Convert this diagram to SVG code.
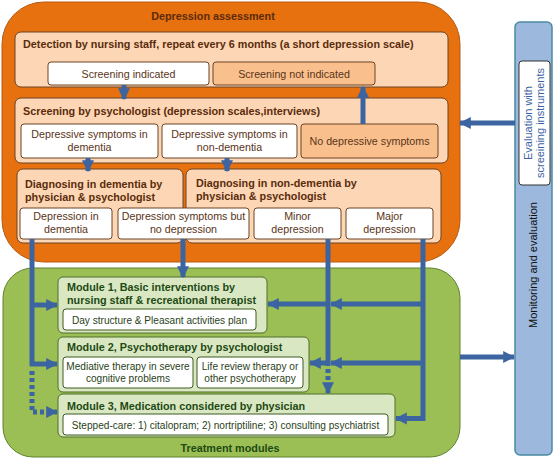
<svg xmlns="http://www.w3.org/2000/svg" width="555" height="460" viewBox="0 0 555 460">
<defs>
<style>
text{font-family:"Liberation Sans",Arial,sans-serif}
.ob{fill:#fcd6b5;stroke:#6b4426;stroke-width:1}
.wb{fill:#ffffff;stroke:#6b4426;stroke-width:1}
.db{fill:#f9c08e;stroke:#6b4426;stroke-width:1}
.gb{fill:#d9e8c3;stroke:#4f6e2a;stroke-width:1}
.gw{fill:#ffffff;stroke:#3e5a22;stroke-width:1}
.ot{font-size:10.8px;font-weight:bold;fill:#5a2c0c}
.st{font-size:10.7px;fill:#5a3418;text-anchor:middle}
.gt{font-size:10.8px;font-weight:bold;fill:#1f4a14}
.gs{font-size:10.1px;fill:#2a3f20;text-anchor:middle}
.c{fill:none;stroke:#3c64a0;stroke-width:5}
.cd{fill:none;stroke:#3c64a0;stroke-width:5;stroke-dasharray:4 3}
</style>
<marker id="ah" viewBox="0 0 10 10" refX="9" refY="5" markerWidth="12" markerHeight="14" markerUnits="userSpaceOnUse" orient="auto">
<path d="M0,0 L10,5 L0,10 z" fill="#3c64a0"/>
</marker>
</defs>

<g id="assessment">
<rect x="2" y="2" width="458" height="260" rx="42" fill="#e7700f" stroke="#b85a10" stroke-width="1"/>
<text x="213" y="20" class="ot" text-anchor="middle" fill="#3a1a05">Depression assessment</text>
</g>

<g id="detection">
<rect x="15" y="32" width="433" height="55" rx="6" class="ob"/>
<text x="23" y="48" class="ot">Detection by nursing staff, repeat every 6 months (a short depression scale)</text>
</g>
<g id="screening-indicated">
<rect x="48" y="62" width="161" height="23" rx="3" class="wb"/>
<text x="128.5" y="77.5" class="st">Screening indicated</text>
</g>
<g id="screening-not-indicated">
<rect x="213" y="62" width="162" height="23" rx="3" class="db"/>
<text x="294" y="77.5" class="st">Screening not indicated</text>
</g>

<g id="screening-psych">
<rect x="15" y="98" width="433" height="65" rx="6" class="ob"/>
<text x="23" y="115" class="ot">Screening by psychologist (depression scales,interviews)</text>
</g>
<g id="symptoms-dementia">
<rect x="21" y="124" width="137" height="34" rx="3" class="wb"/>
<text x="89.5" y="138" class="st">Depressive symptoms in</text>
<text x="89.5" y="151" class="st">dementia</text>
</g>
<g id="symptoms-non-dementia">
<rect x="162" y="124" width="135" height="34" rx="3" class="wb"/>
<text x="229.5" y="138" class="st">Depressive symptoms in</text>
<text x="229.5" y="151" class="st">non-dementia</text>
</g>
<g id="no-symptoms">
<rect x="301" y="124" width="137" height="34" rx="3" class="db"/>
<text x="369.5" y="145" class="st">No depressive symptoms</text>
</g>

<g id="diag-dementia">
<rect x="17" y="169" width="166" height="74" rx="6" class="ob"/>
<text x="25" y="188" class="ot">Diagnosing in dementia by</text>
<text x="25" y="201" class="ot">physician &amp; psychologist</text>
</g>
<g id="diag-non-dementia">
<rect x="186" y="169" width="255" height="74" rx="6" class="ob"/>
<text x="196" y="187" class="ot">Diagnosing in non-dementia by</text>
<text x="196" y="200" class="ot">physician &amp; psychologist</text>
</g>
<g id="depression-dementia">
<rect x="20" y="208" width="92" height="31" rx="3" class="wb"/>
<text x="66" y="220" class="st">Depression in</text>
<text x="66" y="233" class="st">dementia</text>
</g>
<g id="symptoms-no-depression">
<rect x="118" y="208" width="131" height="31" rx="3" class="wb"/>
<text x="183.5" y="220" class="st">Depression symptoms but</text>
<text x="183.5" y="233" class="st">no depression</text>
</g>
<g id="minor-depression">
<rect x="254" y="208" width="87" height="31" rx="3" class="wb"/>
<text x="297.5" y="220" class="st">Minor</text>
<text x="297.5" y="233" class="st">depression</text>
</g>
<g id="major-depression">
<rect x="346" y="208" width="87" height="31" rx="3" class="wb"/>
<text x="389.5" y="220" class="st">Major</text>
<text x="389.5" y="233" class="st">depression</text>
</g>

<g id="treatment">
<rect x="3" y="268" width="457" height="189" rx="30" fill="#9bbf55" stroke="#5f8230" stroke-width="1"/>
<text x="230" y="452" class="gt" text-anchor="middle" fill="#132a0a" font-size="11px">Treatment modules</text>
</g>
<g id="module1">
<rect x="58" y="277" width="209" height="56" rx="5" class="gb"/>
<text x="67" y="291" class="gt">Module 1, Basic interventions by</text>
<text x="67" y="303.5" class="gt">nursing staff &amp; recreational therapist</text>
<rect x="63" y="309" width="193" height="21" rx="3" class="gw"/>
<text x="159.5" y="323.5" class="gs">Day structure &amp; Pleasant activities plan</text>
</g>
<g id="module2">
<rect x="58" y="337" width="251" height="55" rx="5" class="gb"/>
<text x="67" y="351" class="gt">Module 2, Psychotherapy by psychologist</text>
<rect x="63" y="357" width="130" height="31" rx="3" class="gw"/>
<text x="128" y="369.5" class="gs">Mediative therapy in severe</text>
<text x="128" y="382" class="gs">cognitive problems</text>
<rect x="197" y="357" width="106" height="31" rx="3" class="gw"/>
<text x="250" y="369.5" class="gs">Life review therapy or</text>
<text x="250" y="382" class="gs">other psychotherapy</text>
</g>
<g id="module3">
<rect x="58" y="394" width="337" height="43" rx="5" class="gb"/>
<text x="67" y="410" class="gt">Module 3, Medication considered by physician</text>
<rect x="63" y="414" width="325" height="21" rx="3" class="gw"/>
<text x="225.5" y="428.5" class="gs">Stepped-care: 1) citalopram; 2) nortriptiline; 3) consulting psychiatrist</text>
</g>

<g id="monitoring">
<rect x="515" y="22" width="37" height="433" rx="5" fill="#9cb8dc" stroke="#4a8ba2" stroke-width="1.5"/>
<text transform="translate(537,265) rotate(-90)" font-size="11" text-anchor="middle" fill="#111">Monitoring and evaluation</text>
<rect x="519" y="61" width="31" height="124" rx="3" fill="#ffffff" stroke="#333" stroke-width="1"/>
<text transform="translate(532,123) rotate(-90)" font-size="11" text-anchor="middle" fill="#3c64a0">Evaluation with</text>
<text transform="translate(544,123) rotate(-90)" font-size="11" text-anchor="middle" fill="#3c64a0">screeining instruments</text>
</g>

<g id="connectors">
<path class="c" d="M124,85 V99" marker-end="url(#ah)"/>
<path class="c" d="M363,124 V87" marker-end="url(#ah)"/>
<path class="c" d="M88,158 V171" marker-end="url(#ah)"/>
<path class="c" d="M227,158 V171" marker-end="url(#ah)"/>
<path class="c" d="M515,123 H460" marker-end="url(#ah)"/>
<path class="c" d="M32,239 V366"/>
<path class="c" d="M30,305 H57" marker-end="url(#ah)"/>
<path class="c" d="M30,364 H57" marker-end="url(#ah)"/>
<path class="cd" d="M32,371 V412 H57" marker-end="url(#ah)"/>
<path class="c" d="M183,239 V277" marker-end="url(#ah)"/>
<path class="c" d="M328,239 V366"/>
<path class="c" d="M330,304 H268" marker-end="url(#ah)"/>
<path class="c" d="M330,363 H310" marker-end="url(#ah)"/>
<path class="cd" d="M328,369 V393" marker-end="url(#ah)"/>
<path class="c" d="M423,239 V418.5 H396" marker-end="url(#ah)"/>
<path class="c" d="M425,304 H331" marker-end="url(#ah)"/>
<path class="c" d="M425,363 H331" marker-end="url(#ah)"/>
<path class="c" d="M460,357 H514" marker-end="url(#ah)"/>
</g>
</svg>
